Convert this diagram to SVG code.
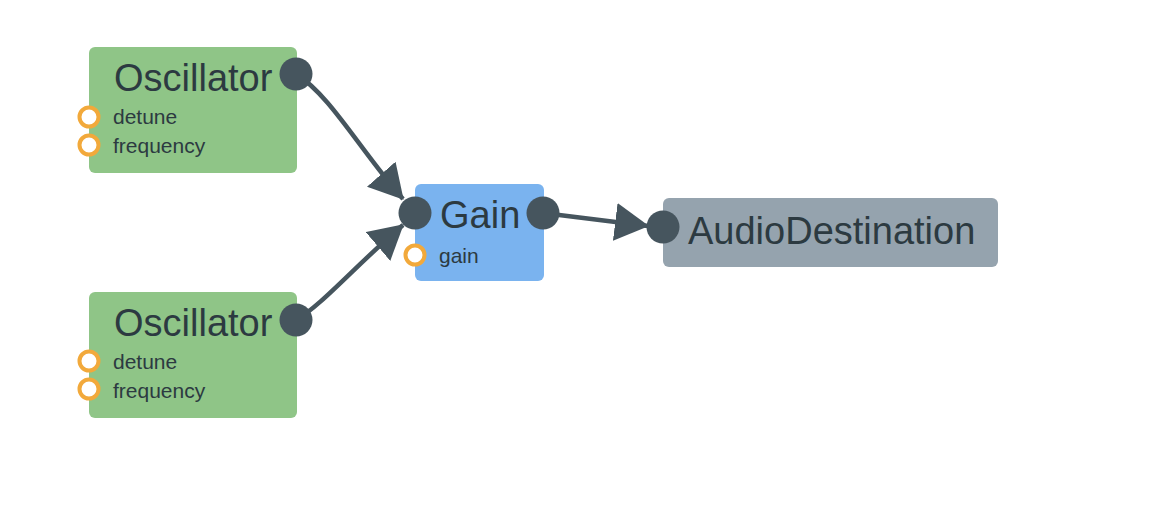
<svg xmlns="http://www.w3.org/2000/svg" width="1156" height="508" viewBox="0 0 1156 508">
<style>
.osc{fill:#8FC587}
.gain{fill:#7AB3EF}
.dest{fill:#95A3AE}
.title{font-family:"Liberation Sans",Arial,sans-serif;font-size:38px;fill:#2C3A41}
.param{font-family:"Liberation Sans",Arial,sans-serif;font-size:21px;fill:#2C3A41}
.port{fill:#46555E}
.pin{fill:#ffffff;stroke:#F2A93B;stroke-width:4}
.wire{fill:none;stroke:#46555E;stroke-width:4.5}
</style>
<defs>
<marker id="arrow" markerUnits="userSpaceOnUse" markerWidth="34" markerHeight="38" viewBox="0 0 34 38" refX="33" refY="19" orient="auto">
<path d="M0,0 L34,19 L0,38 z" fill="#46555E"/>
</marker>
</defs>
<rect width="1156" height="508" fill="#ffffff"/>
<g id="connectors">
<path class="wire" d="M296,74 C330,95 360,150 403,199" marker-end="url(#arrow)"/>
<path class="wire" d="M296,320 C322,305 355,266 403,225" marker-end="url(#arrow)"/>
<path class="wire" d="M543,213 L648,226" marker-end="url(#arrow)"/>
</g>
<g id="osc1">
<rect class="osc" x="89" y="47" width="208" height="126" rx="6"/>
<text class="title" x="114" y="91">Oscillator</text>
<text class="param" x="113" y="124">detune</text>
<text class="param" x="113" y="153">frequency</text>
<circle class="pin" cx="89" cy="117" r="9.5"/>
<circle class="pin" cx="89" cy="145" r="9.5"/>
<circle class="port" cx="296" cy="74" r="16.5"/>
</g>
<g id="osc2">
<rect class="osc" x="89" y="292" width="208" height="126" rx="6"/>
<text class="title" x="114" y="336">Oscillator</text>
<text class="param" x="113" y="369">detune</text>
<text class="param" x="113" y="398">frequency</text>
<circle class="pin" cx="89" cy="361" r="9.5"/>
<circle class="pin" cx="89" cy="389" r="9.5"/>
<circle class="port" cx="296" cy="320" r="16.5"/>
</g>
<g id="gain">
<rect class="gain" x="415" y="184" width="129" height="97" rx="6"/>
<text class="title" x="440" y="228">Gain</text>
<text class="param" x="439" y="263">gain</text>
<circle class="pin" cx="415" cy="255" r="9.5"/>
<circle class="port" cx="415" cy="213" r="16.5"/>
<circle class="port" cx="543" cy="213" r="16.5"/>
</g>
<g id="destination">
<rect class="dest" x="663" y="198" width="335" height="69" rx="6"/>
<text class="title" x="688" y="244">AudioDestination</text>
<circle class="port" cx="663" cy="227" r="16.5"/>
</g>
</svg>
